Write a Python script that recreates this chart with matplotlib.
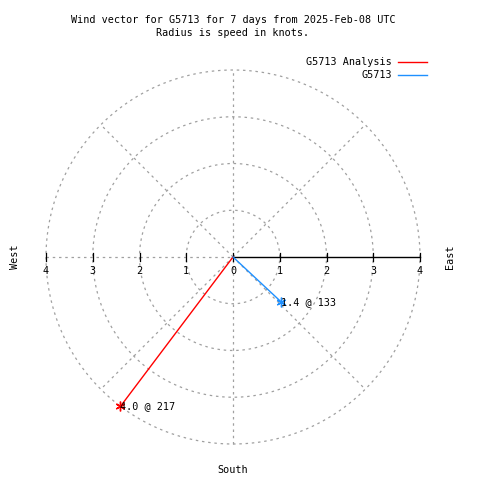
import numpy as np
import matplotlib
matplotlib.use("Agg")
import matplotlib.pyplot as plt

# wind vectors: speed in knots, direction in compass degrees
labels = ["G5713 Analysis", "G5713"]
speeds = [4.0, 1.4]
directions = [217, 133]
colors = ["#ff0000", "#1e90ff"]
rings = [1, 2, 3, 4]
spokes = [45, 135, 225, 315]
ticks = [-4, -3, -2, -1, 0, 1, 2, 3, 4]

title = "Wind vector for G5713 for 7 days from 2025-Feb-08 UTC\nRadius is speed in knots."

# pixel geometry of the reference
W, H = 480, 480
cx, cy = 233, 257
ppk = 46.75  # pixels per knot

fig = plt.figure(figsize=(W / 100, H / 100), dpi=100)
ax = fig.add_axes([0, 0, 1, 1])
ax.set_xlim(-cx / ppk, (W - cx) / ppk)
ax.set_ylim(-(H - cy) / ppk, cy / ppk)
ax.axis("off")

mono = "DejaVu Sans Mono"
fs = 7.3
grid_kw = dict(color="#a0a0a0", lw=0.9, ls=(0, (2, 3)), zorder=1)

# grid circles
t = np.linspace(0, 2 * np.pi, 400)
for r in rings:
    ax.plot(r * np.cos(t), r * np.sin(t), **grid_kw)
# diagonal spokes
for a in spokes:
    rad = np.deg2rad(a)
    ax.plot([0, 4 * np.cos(rad)], [0, 4 * np.sin(rad)], **grid_kw)
# vertical and left horizontal grid
ax.plot([0, 0], [-4, 4], **grid_kw)
ax.plot([-4, 0], [0, 0], **grid_kw)
# solid radial axis to the east
ax.plot([0, 4], [0, 0], color="black", lw=1, zorder=2)

# tick marks and labels along horizontal axis
tk = 4 / ppk
for v in ticks:
    ax.plot([v, v], [-tk, tk], color="black", lw=0.9, zorder=2)
    ax.text(v, -14 / ppk, str(abs(v)), family=mono, fontsize=fs,
            ha="center", va="center")

# wind vectors
for lab, s, d, c in zip(labels, speeds, directions, colors):
    rad = np.deg2rad(d)
    x, y = s * np.sin(rad), s * np.cos(rad)
    ax.plot([0, x], [0, y], color=c, lw=1, zorder=3)
    ax.plot([x], [y], marker=(6, 2, 0), color=c, ms=7, mew=1, zorder=4)
    ax.text(x, y, f"{s:.1f} @ {d}", family=mono, fontsize=fs,
            ha="left", va="center", zorder=5)

# compass labels
ax.text(-218 / ppk, 0, "West", family=mono, fontsize=fs, rotation=90,
        ha="center", va="center")
ax.text(217 / ppk, 0, "East", family=mono, fontsize=fs, rotation=90,
        ha="center", va="center")
ax.text(0, -213 / ppk, "South", family=mono, fontsize=fs,
        ha="center", va="center")

# title
fig.text(cx / W, 1 - 26.5 / H, title, family=mono, fontsize=fs,
         ha="center", va="center", linespacing=1.45)

# legend
for i, (lab, c) in enumerate(zip(labels, colors)):
    y = 1 - (62 + 13 * i) / H
    fig.text(392 / W, y, lab, family=mono, fontsize=fs, ha="right", va="center")
    fig.add_artist(plt.Line2D([398 / W, 427 / W], [y, y], color=c, lw=1))

fig.savefig("out.png", dpi=100)
